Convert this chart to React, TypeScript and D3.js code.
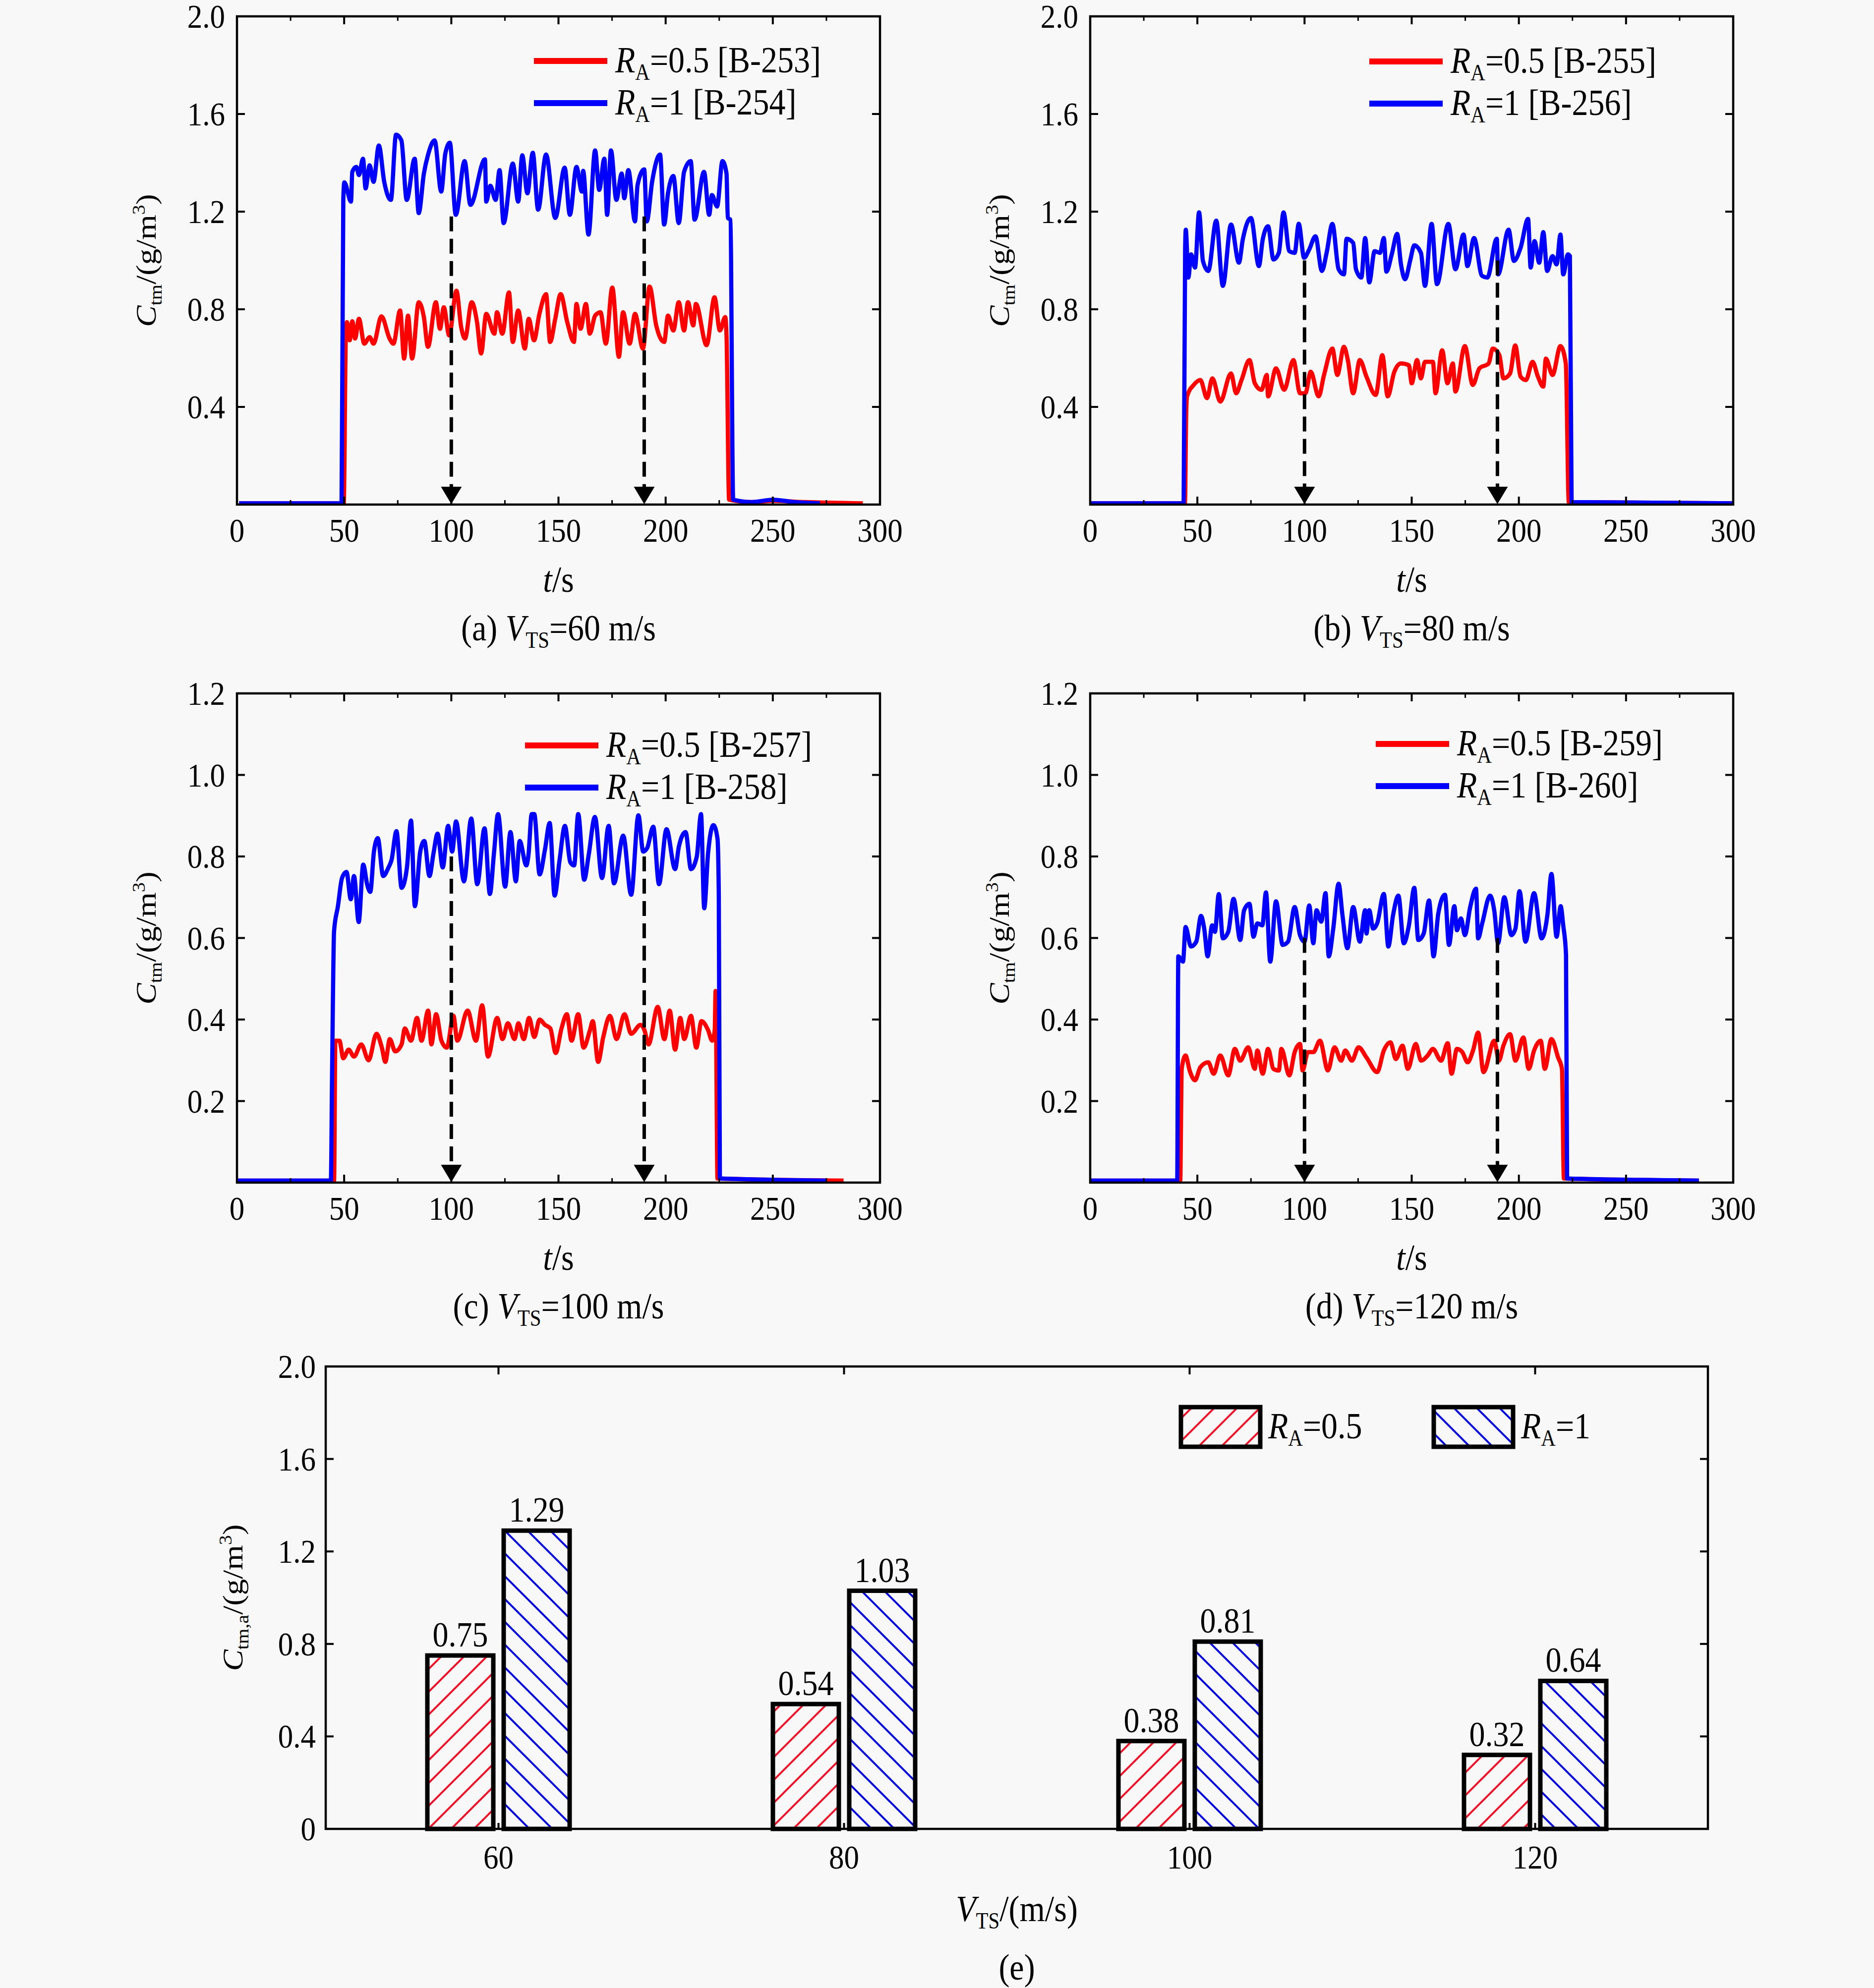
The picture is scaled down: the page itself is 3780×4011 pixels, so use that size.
import React from "react";
import * as d3 from "d3";

// time traces, [t (s), C_tm (g/m3)]
const aRed = [
  [1, 0.005], [49.8, 0.005], [50.8, 0.7], [51.3, 0.747], [52.6, 0.673], [53.8, 0.751], [55.1, 0.68], [56.9, 0.761],
  [59.4, 0.659], [61.9, 0.686], [63.7, 0.659], [67.4, 0.771], [71.2, 0.68], [73.0, 0.659], [76.1, 0.795], [78.0, 0.598],
  [79.8, 0.774], [81.7, 0.598], [84.8, 0.829], [87.2, 0.768], [89.1, 0.646], [92.8, 0.829], [94.7, 0.72], [96.5, 0.808],
  [99.0, 0.693], [102.4, 0.876], [104.6, 0.727], [106.4, 0.68], [109.5, 0.829], [112.0, 0.747], [113.9, 0.619],
  [116.3, 0.781], [120.1, 0.7], [121.3, 0.788], [123.8, 0.7], [126.9, 0.869], [128.7, 0.666], [131.2, 0.795],
  [134.3, 0.639], [136.1, 0.761], [138.6, 0.673], [141.1, 0.781], [144.2, 0.862], [146.1, 0.666], [148.5, 0.761],
  [151.0, 0.862], [154.1, 0.747], [157.2, 0.666], [158.4, 0.822], [160.3, 0.72], [162.8, 0.822], [164.6, 0.7],
  [167.1, 0.774], [169.6, 0.788], [172.1, 0.659], [175.1, 0.889], [178.2, 0.605], [180.1, 0.788], [183.2, 0.659],
  [185.7, 0.781], [189.4, 0.639], [192.5, 0.893], [195.6, 0.734], [199.3, 0.666], [201.1, 0.774], [203.6, 0.713],
  [206.1, 0.829], [208.6, 0.713], [210.4, 0.829], [212.9, 0.734], [214.1, 0.822], [219.1, 0.653], [222.8, 0.849],
  [225.3, 0.713], [227.8, 0.768], [228.4, 0.693], [229.6, 0.02], [240, 0.01], [250, 0.015], [265, 0.01], [292, 0.005],
];
const aBlue = [
  [1, 0.005], [48.8, 0.005], [49.6, 1.25], [50.1, 1.32], [53.2, 1.241], [53.8, 1.363], [55.7, 1.383], [56.9, 1.35],
  [58.8, 1.417], [60.0, 1.295], [61.9, 1.39], [63.7, 1.322], [66.2, 1.471], [68.7, 1.322], [71.8, 1.248], [74.2, 1.515],
  [76.7, 1.492], [79.2, 1.248], [82.9, 1.417], [84.8, 1.194], [87.2, 1.356], [89.1, 1.431], [92.2, 1.492], [95.3, 1.282],
  [97.2, 1.438], [99.3, 1.482], [102.1, 1.187], [106.2, 1.407], [108.9, 1.228], [115.7, 1.414], [116.3, 1.241],
  [118.2, 1.306], [120.7, 1.248], [122.5, 1.37], [124.4, 1.153], [128.7, 1.397], [131.2, 1.241], [133.1, 1.431],
  [135.5, 1.275], [138.0, 1.441], [140.5, 1.208], [144.2, 1.434], [148.5, 1.174], [152.9, 1.38], [155.3, 1.187],
  [158.4, 1.383], [160.9, 1.282], [161.5, 1.367], [164.0, 1.106], [167.1, 1.451], [169.0, 1.289], [171.4, 1.417],
  [172.7, 1.187], [174.5, 1.451], [177.0, 1.248], [179.5, 1.356], [180.7, 1.255], [182.6, 1.37], [185.7, 1.16],
  [186.9, 1.309], [190.0, 1.373], [191.2, 1.16], [193.7, 1.323], [197.4, 1.434], [199.3, 1.147], [201.1, 1.275],
  [203.6, 1.346], [206.1, 1.153], [208.6, 1.363], [211.7, 1.407], [213.5, 1.167], [217.9, 1.363], [220.3, 1.187],
  [221.6, 1.268], [224.0, 1.221], [226.5, 1.407], [228.4, 1.356], [229.0, 1.174], [230.2, 1.167], [231.5, 0.02],
  [240, 0.01], [250, 0.02], [260, 0.01], [272, 0.005],
];
const bRed = [
  [0, 0.005], [44.2, 0.005], [44.8, 0.38], [45.2, 0.443], [48.3, 0.49], [51.4, 0.51], [54.5, 0.436], [57.0, 0.517],
  [60.7, 0.422], [65.7, 0.537], [68.1, 0.456], [70.6, 0.51], [74.3, 0.592], [76.8, 0.497], [79.9, 0.47], [82.4, 0.531],
  [83.0, 0.443], [86.7, 0.558], [90.5, 0.47], [94.8, 0.592], [97.9, 0.456], [100.4, 0.456], [102.9, 0.544],
  [106.6, 0.443], [109.1, 0.531], [113.0, 0.639], [115.3, 0.531], [118.4, 0.646], [120.2, 0.592], [122.7, 0.456],
  [125.8, 0.592], [128.9, 0.524], [133.2, 0.449], [136.3, 0.612], [138.8, 0.443], [141.9, 0.544], [145.0, 0.578],
  [148.7, 0.571], [150.0, 0.497], [152.5, 0.592], [154.3, 0.517], [156.2, 0.585], [159.9, 0.585], [161.1, 0.456],
  [164.2, 0.632], [166.7, 0.497], [169.2, 0.578], [170.4, 0.463], [174.8, 0.649], [178.5, 0.49], [181.6, 0.558],
  [185.9, 0.578], [187.8, 0.639], [190.9, 0.612], [192.8, 0.517], [195.9, 0.537], [198.3, 0.652], [200.8, 0.524],
  [203.3, 0.51], [206.4, 0.585], [208.9, 0.524], [211.4, 0.483], [212.6, 0.598], [215.7, 0.531], [219.4, 0.649],
  [221.9, 0.578], [223.3, 0.01], [300, 0.005],
];
const bBlue = [
  [0, 0.005], [43.6, 0.005], [44.3, 1.05], [44.6, 1.126], [45.8, 0.93], [47.1, 1.025], [48.9, 0.971], [50.8, 1.197],
  [52.6, 0.998], [55.1, 0.957], [58.8, 1.163], [61.9, 0.896], [65.7, 1.147], [69.4, 0.991], [71.2, 1.086], [75.0, 1.174],
  [78.7, 0.977], [80.5, 1.086], [83.0, 1.14], [85.5, 1.004], [88.0, 1.031], [90.2, 1.197], [92.9, 1.038], [95.4, 1.031],
  [97.3, 1.15], [99.8, 1.011], [102.2, 1.045], [105.1, 1.099], [108.1, 0.957], [110.3, 1.031], [113.0, 1.15],
  [115.9, 0.964], [118.4, 0.943], [119.6, 1.089], [122.7, 1.072], [124.0, 0.964], [126.5, 0.93], [128.3, 1.092],
  [130.2, 0.91], [132.7, 1.038], [135.2, 1.031], [137.0, 1.092], [138.2, 0.954], [140.7, 1.025], [143.2, 1.109],
  [145.0, 0.984], [146.9, 0.923], [149.4, 1.004], [151.2, 1.062], [154.3, 1.031], [156.2, 0.896], [159.3, 1.15],
  [161.8, 0.903], [167.1, 1.15], [170.4, 0.964], [174.2, 1.106], [176.0, 0.977], [179.1, 1.092], [182.8, 0.937],
  [185.3, 0.93], [189.7, 1.089], [190.3, 0.943], [195.2, 1.126], [197.7, 0.998], [200.8, 1.052], [204.3, 1.17],
  [205.5, 0.971], [207.3, 1.079], [209.5, 0.991], [211.4, 1.116], [213.2, 0.957], [215.7, 1.018], [217.6, 0.984],
  [219.4, 1.106], [220.7, 0.943], [222.9, 1.025], [223.8, 1.018], [224.6, 0.01], [300, 0.005],
];
const cRed = [
  [0, 0.005], [45.3, 0.005], [45.9, 0.348], [47.8, 0.348], [49.6, 0.305], [52.1, 0.326], [54.6, 0.309], [58.0, 0.339],
  [61.4, 0.3], [65.1, 0.365], [67.6, 0.331], [69.2, 0.296], [71.3, 0.352], [73.8, 0.322], [76.8, 0.339], [78.3, 0.378],
  [81.2, 0.348], [84.0, 0.404], [86.1, 0.348], [89.2, 0.422], [90.7, 0.339], [92.9, 0.413], [95.4, 0.348],
  [97.9, 0.331], [101.0, 0.409], [102.8, 0.348], [107.6, 0.422], [111.5, 0.348], [114.4, 0.435], [117.1, 0.309],
  [121.4, 0.404], [123.9, 0.352], [126.4, 0.391], [129.5, 0.352], [131.3, 0.391], [133.8, 0.352], [136.3, 0.404],
  [138.7, 0.357], [141.2, 0.4], [143.7, 0.387], [146.2, 0.378], [148.7, 0.318], [151.4, 0.378], [153.9, 0.413],
  [156.1, 0.348], [159.2, 0.413], [161.7, 0.331], [164.7, 0.374], [166.0, 0.396], [168.5, 0.296], [170.9, 0.357],
  [174.0, 0.409], [177.1, 0.352], [180.8, 0.413], [183.9, 0.365], [188.3, 0.387], [190.1, 0.374], [192.0, 0.339],
  [196.3, 0.431], [199.4, 0.352], [201.9, 0.422], [204.4, 0.326], [206.8, 0.404], [208.7, 0.352], [211.8, 0.409],
  [214.3, 0.331], [216.7, 0.396], [219.8, 0.374], [221.7, 0.348], [222.9, 0.374], [223.3, 0.47], [224.2, 0.01],
  [283, 0.005],
];
const cBlue = [
  [0, 0.005], [43.8, 0.005], [44.4, 0.28], [45.3, 0.617], [47.1, 0.678], [49.0, 0.747], [51.1, 0.762], [53.1, 0.695],
  [54.6, 0.752], [56.8, 0.639], [58.9, 0.78], [60.8, 0.73], [62.2, 0.713], [63.9, 0.812], [65.7, 0.845], [68.2, 0.752],
  [70.7, 0.773], [72.1, 0.791], [74.4, 0.862], [76.8, 0.723], [79.3, 0.773], [81.2, 0.888], [83.0, 0.678], [85.5, 0.812],
  [87.4, 0.838], [89.8, 0.752], [91.7, 0.808], [93.6, 0.856], [96.0, 0.773], [98.5, 0.875], [100.4, 0.812],
  [102.2, 0.886], [105.9, 0.739], [109.3, 0.893], [112.1, 0.732], [115.5, 0.869], [118.0, 0.708], [119.9, 0.808],
  [121.8, 0.904], [125.1, 0.726], [127.6, 0.86], [130.1, 0.739], [131.9, 0.838], [135.0, 0.778], [136.0, 0.804],
  [137.5, 0.904], [138.7, 0.904], [141.2, 0.756], [143.7, 0.817], [145.9, 0.882], [148.2, 0.704], [150.5, 0.791],
  [153.0, 0.875], [155.5, 0.786], [157.3, 0.778], [159.2, 0.904], [162.0, 0.743], [164.1, 0.804], [167.0, 0.897],
  [170.3, 0.747], [173.4, 0.875], [175.9, 0.734], [180.2, 0.851], [183.9, 0.706], [187.3, 0.901], [189.5, 0.812],
  [191.4, 0.821], [194.2, 0.873], [196.9, 0.732], [200.4, 0.867], [204.4, 0.769], [206.2, 0.825], [209.3, 0.86],
  [211.8, 0.769], [214.5, 0.799], [216.5, 0.904], [218.0, 0.673], [219.8, 0.808], [222.3, 0.877], [224.2, 0.843],
  [224.8, 0.704], [225.3, 0.01], [275, 0.005],
];
const dRed = [
  [0, 0.005], [42.0, 0.005], [42.7, 0.279], [44.5, 0.312], [46.4, 0.275], [48.9, 0.251], [51.4, 0.283], [55.1, 0.295],
  [57.6, 0.267], [60.7, 0.312], [64.4, 0.263], [67.5, 0.328], [70.0, 0.299], [73.7, 0.332], [76.8, 0.279], [78.0, 0.324],
  [80.5, 0.267], [83.0, 0.328], [85.5, 0.279], [88.0, 0.275], [89.2, 0.328], [92.9, 0.263], [95.4, 0.32], [97.9, 0.34],
  [99.1, 0.275], [101.6, 0.32], [104.1, 0.32], [107.2, 0.348], [110.9, 0.275], [114.0, 0.332], [117.1, 0.299],
  [119.0, 0.324], [122.1, 0.299], [125.2, 0.332], [128.9, 0.307], [133.9, 0.271], [137.0, 0.324], [140.1, 0.344],
  [142.6, 0.303], [145.7, 0.336], [148.2, 0.279], [151.9, 0.34], [154.4, 0.299], [157.5, 0.312], [159.9, 0.328],
  [163.7, 0.299], [166.8, 0.342], [168.6, 0.267], [171.1, 0.328], [173.6, 0.32], [176.1, 0.295], [178.6, 0.324],
  [181.0, 0.368], [183.5, 0.271], [188.5, 0.348], [190.7, 0.299], [192.8, 0.336], [195.9, 0.364], [198.4, 0.299],
  [202.1, 0.356], [204.6, 0.279], [207.1, 0.324], [210.2, 0.348], [212.1, 0.279], [215.2, 0.352], [218.3, 0.307],
  [220.1, 0.279], [221.0, 0.01], [284, 0.005],
];
const dBlue = [
  [0, 0.005], [40.6, 0.005], [41.1, 0.555], [43.3, 0.542], [44.5, 0.627], [47.0, 0.579], [49.5, 0.591], [51.7, 0.654],
  [53.2, 0.623], [54.8, 0.555], [56.9, 0.631], [58.2, 0.615], [60.0, 0.708], [61.9, 0.599], [64.4, 0.615], [66.9, 0.696],
  [70.0, 0.595], [71.8, 0.668], [74.3, 0.684], [76.2, 0.603], [78.0, 0.636], [80.3, 0.631], [82.0, 0.712], [84.0, 0.542],
  [86.7, 0.69], [89.8, 0.583], [92.3, 0.591], [95.4, 0.676], [97.9, 0.607], [100.0, 0.591], [102.2, 0.68],
  [104.1, 0.587], [105.6, 0.668], [107.8, 0.64], [109.8, 0.71], [111.3, 0.555], [113.4, 0.623], [115.9, 0.733],
  [117.7, 0.656], [120.0, 0.575], [122.7, 0.676], [125.8, 0.591], [128.3, 0.668], [128.9, 0.611], [130.2, 0.668],
  [132.0, 0.623], [133.9, 0.636], [137.0, 0.708], [139.1, 0.579], [141.3, 0.656], [143.8, 0.704], [146.3, 0.587],
  [148.7, 0.631], [151.2, 0.723], [153.1, 0.595], [155.6, 0.611], [158.1, 0.692], [160.2, 0.555], [162.4, 0.66],
  [165.5, 0.706], [167.4, 0.583], [169.9, 0.678], [171.1, 0.619], [173.0, 0.648], [174.8, 0.607], [177.3, 0.676],
  [180.0, 0.721], [181.0, 0.599], [182.9, 0.636], [186.6, 0.704], [188.5, 0.668], [190.3, 0.587], [193.2, 0.7],
  [196.5, 0.607], [198.4, 0.623], [200.3, 0.715], [203.1, 0.591], [207.1, 0.71], [210.6, 0.599], [213.3, 0.656],
  [215.2, 0.757], [217.6, 0.603], [219.5, 0.678], [220.7, 0.631], [222.0, 0.559], [222.5, 0.01], [284, 0.005],
];

const tTicks = [0, 50, 100, 150, 200, 250, 300];
const tMinor = [25, 75, 125, 175, 225, 275];
const yTicksHigh = [0.4, 0.8, 1.2, 1.6, 2.0];
const yTicksLow = [0.2, 0.4, 0.6, 0.8, 1.0, 1.2];
const arrowTimes = [100, 190];

// bar chart (e)
const speeds = ["60", "80", "100", "120"];
const meanRA05 = [0.75, 0.54, 0.38, 0.32];
const meanRA1 = [1.29, 1.03, 0.81, 0.64];
const barTicks = [0, 0.4, 0.8, 1.2, 1.6, 2.0];

const RED = "#ff0000";
const BLUE = "#0000ff";
const BG = "#f8f8f8";
const FONT = "'Liberation Serif', 'Times New Roman', serif";
const SY = 1.12; // the original figure is a little stretched vertically

const panels = [
  { tag: "a", speed: 60, runs: ["253", "254"], red: aRed, blue: aBlue, x0: 478, x1: 1775, y0: 33, y1: 1018, yMax: 2, yTicks: yTicksHigh, lx: 1077, ly: 123, arrowTop: 1.18 },
  { tag: "b", speed: 80, runs: ["255", "256"], red: bRed, blue: bBlue, x0: 2199, x1: 3496, y0: 33, y1: 1018, yMax: 2, yTicks: yTicksHigh, lx: 2762, ly: 124, arrowTop: 1.0 },
  { tag: "c", speed: 100, runs: ["257", "258"], red: cRed, blue: cBlue, x0: 478, x1: 1775, y0: 1399, y1: 2386, yMax: 1.2, yTicks: yTicksLow, lx: 1059, ly: 1504, arrowTop: 0.8 },
  { tag: "d", speed: 120, runs: ["259", "260"], red: dRed, blue: dBlue, x0: 2199, x1: 3496, y0: 1399, y1: 2386, yMax: 1.2, yTicks: yTicksLow, lx: 2775, ly: 1501, arrowTop: 0.6 },
];

type TxtProps = { x: number; y: number; size?: number; anchor?: string; rot?: boolean; children?: React.ReactNode };

const Txt = ({ x, y, size = 62, anchor = "middle", rot = false, children }: TxtProps) => (
  <text
    transform={rot ? `translate(${x},${y}) rotate(-90) scale(${SY},1)` : `translate(${x},${y}) scale(1,${SY})`}
    textAnchor={anchor}
    fontSize={size}
    fontFamily={FONT}
    fill="#000"
  >
    {children}
  </text>
);

// italic symbol, roman subscript, then the rest back on the baseline
const Sym = ({ s, sub, size, rest }: { s: string; sub: string; size: number; rest: string }) => (
  <>
    <tspan fontStyle="italic" fontSize={size}>{s}</tspan>
    <tspan fontSize={size * 0.62} dy={size * 0.2}>{sub}</tspan>
    <tspan fontSize={size} dy={-size * 0.2}>{rest}</tspan>
  </>
);

const ConcLabel = ({ x, y, sub, size }: { x: number; y: number; sub: string; size: number }) => (
  <Txt x={x} y={y} rot size={size}>
    <Sym s="C" sub={sub} size={size} rest="/(g/m" />
    <tspan fontSize={size * 0.62} dy={-size * 0.38}>3</tspan>
    <tspan fontSize={size} dy={size * 0.38}>)</tspan>
  </Txt>
);

const TracePanel = ({ p }: { p: (typeof panels)[number] }) => {
  const x = d3.scaleLinear().domain([0, 300]).range([p.x0, p.x1]);
  const y = d3.scaleLinear().domain([0, p.yMax]).range([p.y1, p.y0]);
  const line = d3
    .line<number[]>()
    .x((d) => x(d[0]))
    .y((d) => y(d[1]))
    .curve(d3.curveMonotoneX);
  const fmt = d3.format(".1f");
  const cx = (p.x0 + p.x1) / 2;
  const cy = (p.y0 + p.y1) / 2;
  const fs = 66;

  return (
    <g>
      <path d={line(p.red) ?? ""} fill="none" stroke={RED} strokeWidth={8.5} strokeLinejoin="round" />
      <path d={line(p.blue) ?? ""} fill="none" stroke={BLUE} strokeWidth={8.5} strokeLinejoin="round" />

      {arrowTimes.map((t) => {
        const ax = x(t);
        const yb = y(0);
        return (
          <g key={t}>
            <line x1={ax} x2={ax} y1={y(p.arrowTop)} y2={yb - 30} stroke="#000" strokeWidth={7} strokeDasharray="30,15" />
            <polygon points={`${ax - 21},${yb - 36} ${ax + 21},${yb - 36} ${ax},${yb - 1}`} fill="#000" />
          </g>
        );
      })}

      <rect x={p.x0} y={p.y0} width={p.x1 - p.x0} height={p.y1 - p.y0} fill="none" stroke="#000" strokeWidth={4.5} />
      {tTicks.map((t) => (
        <g key={t}>
          <line x1={x(t)} x2={x(t)} y1={p.y1} y2={p.y1 - 16} stroke="#000" strokeWidth={4} />
          <line x1={x(t)} x2={x(t)} y1={p.y0} y2={p.y0 + 16} stroke="#000" strokeWidth={4} />
          <Txt x={x(t)} y={p.y1 + 75} size={61}>{t}</Txt>
        </g>
      ))}
      {tMinor.map((t) => (
        <g key={t}>
          <line x1={x(t)} x2={x(t)} y1={p.y1} y2={p.y1 - 9} stroke="#000" strokeWidth={3} />
          <line x1={x(t)} x2={x(t)} y1={p.y0} y2={p.y0 + 9} stroke="#000" strokeWidth={3} />
        </g>
      ))}
      {p.yTicks.map((v) => (
        <g key={v}>
          <line x1={p.x0} x2={p.x0 + 16} y1={y(v)} y2={y(v)} stroke="#000" strokeWidth={4} />
          <line x1={p.x1} x2={p.x1 - 16} y1={y(v)} y2={y(v)} stroke="#000" strokeWidth={4} />
          <Txt x={p.x0 - 24} y={y(v) + 23} size={61} anchor="end">{fmt(v)}</Txt>
        </g>
      ))}

      <ConcLabel x={p.x0 - 164} y={cy} sub="tm" size={58} />
      <Txt x={cx} y={p.y1 + 176} size={fs}>
        <tspan fontStyle="italic" fontSize={fs}>t</tspan>
        <tspan fontSize={fs}>/s</tspan>
      </Txt>
      <Txt x={cx} y={p.y1 + 274} size={fs}>
        <tspan fontSize={fs}>({p.tag}) </tspan>
        <Sym s="V" sub="TS" size={fs} rest={`=${p.speed} m/s`} />
      </Txt>

      {[RED, BLUE].map((c, i) => (
        <g key={c}>
          <line x1={p.lx} x2={p.lx + 148} y1={p.ly + i * 85} y2={p.ly + i * 85} stroke={c} strokeWidth={12} />
          <Txt x={p.lx + 164} y={p.ly + i * 85 + 23} size={fs} anchor="start">
            <Sym s="R" sub="A" size={fs} rest={`=${i === 0 ? "0.5" : "1"} [B-${p.runs[i]}]`} />
          </Txt>
        </g>
      ))}
    </g>
  );
};

const BarPanel = () => {
  const x0 = 657, x1 = 3445, y0 = 2757, y1 = 3690;
  const band = d3.scaleBand<string>().domain(speeds).range([x0, x1]).padding(0);
  const inner = d3.scaleBand<string>().domain(["0.5", "1"]).range([-143.5, 143.5]).paddingInner(0.136);
  const y = d3.scaleLinear().domain([0, 2]).range([y1, y0]);
  const fmt = d3.format(".1f");
  const fs = 66;
  const groups = [
    { key: "0.5", values: meanRA05, fill: "url(#hatchRed)" },
    { key: "1", values: meanRA1, fill: "url(#hatchBlue)" },
  ];
  const bw = inner.bandwidth();

  return (
    <g>
      <defs>
        <pattern id="hatchRed" patternUnits="userSpaceOnUse" width={46} height={46}>
          <rect width={46} height={46} fill={BG} />
          <path d="M0,46 L46,0 M-23,23 L23,-23 M23,69 L69,23" stroke="#f01028" strokeWidth={4} />
        </pattern>
        <pattern id="hatchBlue" patternUnits="userSpaceOnUse" width={46} height={46}>
          <rect width={46} height={46} fill={BG} />
          <path d="M0,0 L46,46 M-23,23 L23,69 M23,-23 L69,23" stroke="#0000e0" strokeWidth={4} />
        </pattern>
      </defs>

      {groups.map((g) =>
        speeds.map((s, i) => {
          const bx = (band(s) ?? 0) + band.bandwidth() / 2 + (inner(g.key) ?? 0);
          const v = g.values[i];
          return (
            <g key={g.key + s}>
              <rect x={bx} y={y(v)} width={bw} height={y(0) - y(v)} fill={g.fill} stroke="#000" strokeWidth={9} />
              <Txt x={bx + bw / 2} y={y(v) - 18} size={64}>{v.toFixed(2)}</Txt>
            </g>
          );
        })
      )}

      <rect x={x0} y={y0} width={x1 - x0} height={y1 - y0} fill="none" stroke="#000" strokeWidth={4.5} />
      {speeds.map((s) => {
        const cx = (band(s) ?? 0) + band.bandwidth() / 2;
        return (
          <g key={s}>
            <line x1={cx} x2={cx} y1={y0} y2={y0 + 16} stroke="#000" strokeWidth={4} />
            <line x1={cx} x2={cx} y1={y1} y2={y1 - 12} stroke="#000" strokeWidth={4} />
            <Txt x={cx} y={y1 + 80} size={61}>{s}</Txt>
          </g>
        );
      })}
      {barTicks.map((v) => (
        <g key={v}>
          <line x1={x0} x2={x0 + 16} y1={y(v)} y2={y(v)} stroke="#000" strokeWidth={4} />
          <line x1={x1} x2={x1 - 16} y1={y(v)} y2={y(v)} stroke="#000" strokeWidth={4} />
          <Txt x={x0 - 20} y={y(v) + 23} size={61} anchor="end">{v === 0 ? "0" : fmt(v)}</Txt>
        </g>
      ))}

      <ConcLabel x={x0 - 168} y={(y0 + y1) / 2} sub="tm,a" size={58} />
      <Txt x={(x0 + x1) / 2} y={y1 + 186} size={fs}>
        <Sym s="V" sub="TS" size={fs} rest="/(m/s)" />
      </Txt>
      <Txt x={(x0 + x1) / 2} y={y1 + 304} size={fs}>(e)</Txt>

      {groups.map((g, i) => {
        const lx = 2382 + i * 510;
        return (
          <g key={g.key}>
            <rect x={lx} y={2839} width={160} height={80} fill={g.fill} stroke="#000" strokeWidth={9} />
            <Txt x={lx + 176} y={2902} size={fs} anchor="start">
              <Sym s="R" sub="A" size={fs} rest={`=${g.key}`} />
            </Txt>
          </g>
        );
      })}
    </g>
  );
};

const App = () => (
  <svg
    width={3780}
    height={4011}
    viewBox="0 0 3780 4011"
    style={{ position: "absolute", left: 0, top: 0, display: "block" }}
  >
    <rect width={3780} height={4011} fill={BG} />
    {panels.map((p) => (
      <TracePanel key={p.tag} p={p} />
    ))}
    <BarPanel />
  </svg>
);

export default App;
